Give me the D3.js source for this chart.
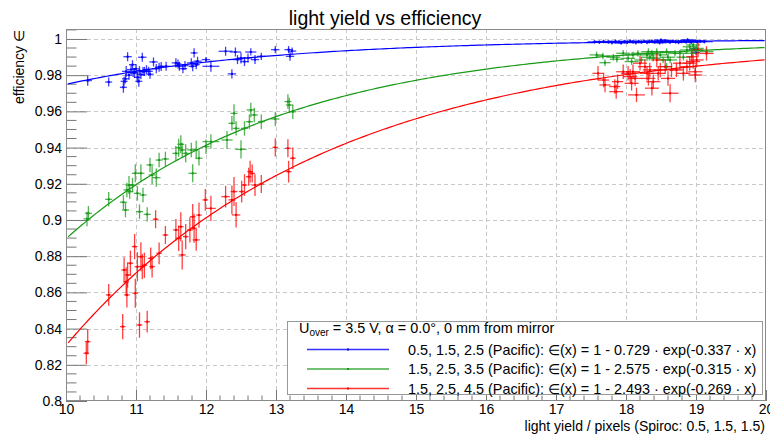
<!DOCTYPE html>
<html>
<head>
<meta charset="utf-8">
<script src="https://cdn.jsdelivr.net/npm/d3@7"></script>
<style>
  body { margin: 0; background: #fff; }
  svg { font-family: "Liberation Sans", Arial, sans-serif; }
</style>
</head>
<body>
<svg id="chart" width="770" height="436"></svg>
<script>
// measured points: [light yield, efficiency, x error, y error]
var blueLeft = [
  [10.31,0.9770,0.06,0.0028],[10.61,0.9762,0.05,0.0025],[10.82,0.9733,0.05,0.0030],
  [10.83,0.9766,0.05,0.0025],[10.85,0.9780,0.05,0.0025],[10.86,0.9821,0.06,0.0030],
  [10.88,0.9902,0.06,0.0025],[10.90,0.9800,0.05,0.0025],[10.93,0.9831,0.06,0.0028],
  [10.95,0.9858,0.05,0.0025],[10.96,0.9815,0.05,0.0025],[10.98,0.9812,0.06,0.0028],
  [11.00,0.9835,0.05,0.0025],[11.02,0.9788,0.05,0.0030],[11.04,0.9766,0.05,0.0030],
  [11.05,0.9825,0.05,0.0025],[11.07,0.9803,0.06,0.0025],[11.09,0.9899,0.06,0.0025],
  [11.10,0.9820,0.05,0.0025],[11.12,0.9821,0.06,0.0025],[11.15,0.9830,0.05,0.0025],
  [11.18,0.9821,0.06,0.0025],[11.20,0.9805,0.05,0.0025],[11.25,0.9873,0.06,0.0025],
  [11.29,0.9836,0.06,0.0025],[11.33,0.9844,0.06,0.0025],[11.36,0.9848,0.05,0.0025],
  [11.43,0.9849,0.06,0.0025],[11.57,0.9868,0.06,0.0025],[11.60,0.9862,0.05,0.0025],
  [11.62,0.9849,0.06,0.0025],[11.67,0.9836,0.06,0.0025],[11.70,0.9853,0.05,0.0025],
  [11.79,0.9868,0.06,0.0025],[11.81,0.9849,0.06,0.0028],[11.83,0.9923,0.05,0.0025],
  [11.86,0.9858,0.05,0.0025],[11.88,0.9877,0.06,0.0025],[12.00,0.9886,0.06,0.0015],
  [12.07,0.9849,0.12,0.0030],[12.28,0.9932,0.10,0.0025],[12.37,0.9807,0.06,0.0025],
  [12.42,0.9928,0.08,0.0025],[12.45,0.9886,0.07,0.0025],[12.50,0.9895,0.06,0.0030],
  [12.55,0.9875,0.06,0.0025],[12.60,0.9895,0.06,0.0025],[12.64,0.9928,0.08,0.0020],
  [12.70,0.9886,0.06,0.0025],[12.79,0.9904,0.06,0.0020],[12.99,0.9941,0.06,0.0020],
  [13.18,0.9941,0.06,0.0020],[13.20,0.9904,0.06,0.0025],[13.23,0.9933,0.06,0.0020]
];
var blueRight = [
  [17.55,0.9984,0.10,0.0010],[17.62,0.9982,0.10,0.0010],[17.68,0.9986,0.12,0.0010],
  [17.75,0.9983,0.10,0.0010],[17.80,0.9980,0.10,0.0010],[17.85,0.9987,0.12,0.0010],
  [17.90,0.9984,0.10,0.0010],[17.93,0.9978,0.10,0.0010],[17.98,0.9985,0.12,0.0010],
  [18.02,0.9982,0.10,0.0010],[18.06,0.9988,0.10,0.0010],[18.10,0.9984,0.12,0.0010],
  [18.14,0.9980,0.10,0.0010],[18.18,0.9986,0.10,0.0010],[18.22,0.9983,0.12,0.0010],
  [18.26,0.9987,0.10,0.0010],[18.30,0.9981,0.10,0.0010],[18.33,0.9985,0.12,0.0010],
  [18.37,0.9988,0.10,0.0010],[18.41,0.9983,0.10,0.0010],[18.45,0.9986,0.12,0.0010],
  [18.48,0.9979,0.10,0.0010],[18.52,0.9984,0.10,0.0010],[18.56,0.9990,0.12,0.0010],
  [18.60,0.9986,0.10,0.0010],[18.63,0.9982,0.10,0.0010],[18.67,0.9988,0.12,0.0010],
  [18.71,0.9984,0.10,0.0010],[18.75,0.9981,0.10,0.0010],[18.79,0.9986,0.12,0.0010],
  [18.83,0.9989,0.10,0.0010],[18.86,0.9984,0.10,0.0010],[18.90,0.9987,0.12,0.0010],
  [18.93,0.9982,0.10,0.0010],[18.96,0.9986,0.10,0.0010],[18.99,0.9989,0.12,0.0010],
  [19.02,0.9984,0.10,0.0010],[19.06,0.9987,0.10,0.0010],[19.12,0.9985,0.12,0.0010],
  [18.97,0.9945,0.06,0.0015],[19.00,0.9925,0.06,0.0015],[18.50,0.9994,0.10,0.0010],
  [18.88,0.9995,0.10,0.0010]
];
var greenLeft = [
  [10.30,0.9006,0.05,0.004],[10.32,0.9037,0.05,0.004],[10.61,0.9114,0.05,0.004],
  [10.82,0.9098,0.05,0.004],[10.85,0.9055,0.05,0.004],[10.87,0.9166,0.05,0.004],
  [10.90,0.9193,0.05,0.005],[10.91,0.9157,0.05,0.004],[10.95,0.9193,0.05,0.004],
  [10.99,0.9258,0.05,0.005],[11.02,0.9147,0.05,0.004],[11.05,0.9046,0.05,0.004],
  [11.07,0.9258,0.05,0.005],[11.10,0.9138,0.05,0.004],[11.16,0.9031,0.05,0.004],
  [11.20,0.9304,0.05,0.004],[11.23,0.9249,0.05,0.005],[11.29,0.9234,0.06,0.005],
  [11.33,0.9331,0.05,0.004],[11.42,0.9337,0.05,0.004],[11.57,0.9368,0.05,0.004],
  [11.61,0.9399,0.05,0.005],[11.64,0.9418,0.05,0.005],[11.66,0.9387,0.05,0.004],
  [11.71,0.9368,0.05,0.005],[11.79,0.9387,0.06,0.004],[11.81,0.9258,0.06,0.005],
  [11.86,0.9387,0.05,0.005],[11.90,0.9341,0.05,0.004],[12.00,0.9405,0.05,0.004],
  [12.07,0.9433,0.12,0.004],[12.30,0.9442,0.08,0.005],[12.37,0.9534,0.05,0.004],
  [12.40,0.9589,0.05,0.005],[12.43,0.9506,0.05,0.004],[12.50,0.9390,0.08,0.005],
  [12.55,0.9506,0.05,0.004],[12.62,0.9543,0.05,0.004],[12.64,0.9608,0.06,0.004],
  [12.69,0.9580,0.05,0.004],[12.79,0.9543,0.05,0.004],[12.99,0.9558,0.06,0.004],
  [13.17,0.9654,0.05,0.004],[13.19,0.9635,0.05,0.004],[13.24,0.9598,0.05,0.004]
];
var greenRight = [
  [17.58,0.9912,0.10,0.0018],[17.67,0.9906,0.10,0.0018],[17.70,0.9869,0.08,0.0018],
  [17.82,0.9899,0.10,0.0018],[17.87,0.9888,0.10,0.0018],[17.96,0.9921,0.10,0.0018],
  [18.03,0.9893,0.10,0.0018],[18.08,0.9875,0.10,0.0018],[18.10,0.9912,0.12,0.0018],
  [18.17,0.9921,0.10,0.0018],[18.22,0.9884,0.10,0.0018],[18.30,0.9912,0.10,0.0018],
  [18.32,0.9930,0.10,0.0018],[18.34,0.9899,0.12,0.0018],[18.37,0.9921,0.10,0.0018],
  [18.39,0.9893,0.10,0.0018],[18.44,0.9930,0.10,0.0018],[18.49,0.9912,0.12,0.0018],
  [18.53,0.9884,0.10,0.0018],[18.58,0.9930,0.10,0.0018],[18.60,0.9899,0.10,0.0018],
  [18.63,0.9884,0.10,0.0018],[18.70,0.9921,0.10,0.0018],[18.77,0.9921,0.10,0.0018],
  [18.82,0.9899,0.10,0.0018],[18.87,0.9939,0.10,0.0018],[18.91,0.9957,0.10,0.0018],
  [18.94,0.9921,0.10,0.0018],[18.96,0.9967,0.10,0.0018],[18.99,0.9939,0.10,0.0018],
  [19.01,0.9948,0.10,0.0018],[19.15,0.9930,0.10,0.0018],[18.58,0.9847,0.08,0.0020]
];
var redLeft = [
  [10.29,0.8264,0.04,0.006],[10.31,0.8328,0.04,0.007],[10.61,0.8586,0.04,0.006],
  [10.81,0.8411,0.04,0.007],[10.83,0.8724,0.04,0.007],[10.86,0.8659,0.04,0.008],
  [10.87,0.8586,0.04,0.007],[10.88,0.8696,0.04,0.007],[10.92,0.8761,0.04,0.007],
  [10.98,0.8853,0.04,0.007],[10.99,0.8595,0.04,0.008],[11.02,0.8742,0.04,0.008],
  [11.05,0.8420,0.04,0.007],[11.07,0.8797,0.04,0.008],[11.09,0.8742,0.04,0.007],
  [11.12,0.8750,0.04,0.007],[11.16,0.8438,0.04,0.006],[11.21,0.8788,0.04,0.006],
  [11.23,0.8742,0.04,0.006],[11.28,0.9004,0.04,0.005],[11.33,0.8816,0.04,0.006],
  [11.42,0.8917,0.04,0.005],[11.57,0.8945,0.04,0.006],[11.61,0.8899,0.04,0.007],
  [11.64,0.8963,0.04,0.008],[11.66,0.8807,0.05,0.008],[11.71,0.8908,0.04,0.007],
  [11.77,0.8945,0.04,0.007],[11.81,0.9018,0.04,0.007],[11.83,0.8954,0.04,0.008],
  [11.86,0.8890,0.05,0.006],[11.90,0.9027,0.04,0.007],[11.99,0.9111,0.04,0.006],
  [12.07,0.9064,0.07,0.007],[12.28,0.9129,0.06,0.006],[12.37,0.9111,0.05,0.008],
  [12.40,0.9157,0.05,0.008],[12.43,0.9028,0.06,0.007],[12.51,0.9157,0.04,0.006],
  [12.55,0.9193,0.04,0.006],[12.61,0.9239,0.04,0.005],[12.63,0.9267,0.04,0.006],
  [12.66,0.9257,0.04,0.005],[12.70,0.9193,0.05,0.006],[12.79,0.9199,0.04,0.005],
  [12.99,0.9401,0.04,0.005],[13.17,0.9396,0.04,0.005],[13.18,0.9267,0.04,0.006],
  [13.24,0.9341,0.04,0.006]
];
var redRight = [
  [17.60,0.9810,0.08,0.004],[17.68,0.9773,0.08,0.004],[17.70,0.9746,0.08,0.004],
  [17.84,0.9737,0.08,0.004],[17.86,0.9709,0.10,0.004],[17.88,0.9764,0.08,0.004],
  [17.96,0.9819,0.10,0.004],[18.03,0.9810,0.10,0.004],[18.06,0.9792,0.10,0.004],
  [18.08,0.9755,0.10,0.004],[18.10,0.9819,0.10,0.004],[18.13,0.9782,0.10,0.004],
  [18.15,0.9691,0.12,0.004],[18.20,0.9866,0.10,0.004],[18.27,0.9847,0.10,0.004],
  [18.30,0.9810,0.10,0.004],[18.32,0.9782,0.10,0.004],[18.34,0.9829,0.10,0.004],
  [18.37,0.9728,0.10,0.004],[18.39,0.9764,0.10,0.004],[18.44,0.9884,0.08,0.004],
  [18.46,0.9810,0.10,0.004],[18.49,0.9829,0.10,0.004],[18.56,0.9847,0.10,0.004],
  [18.60,0.9782,0.10,0.004],[18.63,0.9700,0.12,0.005],[18.65,0.9829,0.10,0.004],
  [18.72,0.9829,0.10,0.004],[18.77,0.9866,0.10,0.004],[18.82,0.9810,0.10,0.004],
  [18.87,0.9847,0.10,0.004],[18.91,0.9866,0.10,0.004],[18.94,0.9902,0.08,0.004],
  [18.96,0.9875,0.10,0.004],[18.99,0.9819,0.10,0.004],[19.01,0.9884,0.10,0.004],
  [19.03,0.9939,0.08,0.004],[19.15,0.9920,0.10,0.004],[18.99,0.9801,0.10,0.004]
];

// fit parameters e(x) = 1 - a * exp(-b * x)
var fitA = [0.729, 2.575, 2.493];
var fitB = [0.337, 0.315, 0.269];
var seriesColors = ['#0000ff', '#179a17', '#ff0000'];
var seriesNames = [
  '0.5, 1.5, 2.5 (Pacific): \u2208(x) = 1 - 0.729 \u00b7 exp(-0.337 \u00b7 x)',
  '1.5, 2.5, 3.5 (Pacific): \u2208(x) = 1 - 2.575 \u00b7 exp(-0.315 \u00b7 x)',
  '1.5, 2.5, 4.5 (Pacific): \u2208(x) = 1 - 2.493 \u00b7 exp(-0.269 \u00b7 x)'
];
var seriesPoints = [blueLeft.concat(blueRight), greenLeft.concat(greenRight), redLeft.concat(redRight)];

var xTicks = d3.range(10, 21, 1);
var yTicks = [0.8, 0.82, 0.84, 0.86, 0.88, 0.9, 0.92, 0.94, 0.96, 0.98, 1];

var svg = d3.select('#chart');
var frame = { l: 66, r: 766, t: 29, b: 401 };

var x = d3.scaleLinear().domain([10, 20]).range([frame.l, frame.r]);
var y = d3.scaleLinear().domain([0.8, 1.0055]).range([frame.b, frame.t]);

svg.append('rect').attr('width', 770).attr('height', 436).attr('fill', '#fff');

// grid
var grid = svg.append('g').attr('stroke', '#c8c8c8').attr('stroke-dasharray', '4,3').attr('stroke-width', 1);
grid.selectAll('.gx').data(xTicks.slice(1, -1)).enter().append('line')
    .attr('x1', d => Math.round(x(d)) + 0.5).attr('x2', d => Math.round(x(d)) + 0.5)
    .attr('y1', frame.t).attr('y2', frame.b);
grid.selectAll('.gy').data(yTicks.slice(1)).enter().append('line')
    .attr('y1', d => Math.round(y(d)) + 0.5).attr('y2', d => Math.round(y(d)) + 0.5)
    .attr('x1', frame.l).attr('x2', frame.r);

svg.append('defs').append('clipPath').attr('id', 'clip')
    .append('rect').attr('x', frame.l).attr('y', frame.t)
    .attr('width', frame.r - frame.l).attr('height', frame.b - frame.t);

// axes (ROOT style, ticks pointing inwards)
var xAxis = d3.axisBottom(x).tickValues(xTicks).tickSize(-11).tickPadding(15).tickFormat(d3.format('d'));
var gx = svg.append('g').attr('transform', `translate(0,${frame.b})`).call(xAxis);
var xMinor = d3.range(10, 20.001, 0.2).filter(d => Math.abs(d - Math.round(d)) > 0.01);
gx.selectAll('.minor').data(xMinor).enter().append('line')
    .attr('x1', d => x(d)).attr('x2', d => x(d)).attr('y1', 0).attr('y2', -5.5);

var yAxis = d3.axisLeft(y).tickValues(yTicks).tickSize(-21).tickPadding(4).tickFormat(d => d3.format('')(+d.toFixed(2)));
var gy = svg.append('g').attr('transform', `translate(${frame.l},0)`).call(yAxis);
var yMinor = d3.range(0.8, 1.0051, 0.005).filter(d => Math.abs(d * 50 - Math.round(d * 50)) > 0.01);
gy.selectAll('.minor').data(yMinor).enter().append('line')
    .attr('y1', d => y(d)).attr('y2', d => y(d)).attr('x1', 0).attr('x2', 10.5);

[gx, gy].forEach(function(g) {
    g.select('.domain').remove();
    g.selectAll('line').attr('stroke', '#777');
    g.selectAll('text').attr('font-size', 14).attr('fill', '#000')
        .attr('font-family', '"Liberation Sans", Arial, sans-serif');
});
gx.selectAll('.tick text').attr('dy', '0.35em').attr('y', 8);

svg.append('rect').attr('x', frame.l + 0.5).attr('y', frame.t + 0.5)
    .attr('width', frame.r - frame.l - 1).attr('height', frame.b - frame.t - 1)
    .attr('fill', 'none').attr('stroke', '#8a8a8a');

// data points with error bars
var plot = svg.append('g').attr('clip-path', 'url(#clip)');
seriesPoints.forEach(function(pts, i) {
    var g = plot.append('g').attr('stroke', seriesColors[i]).attr('stroke-width', 1.3);
    var pg = g.selectAll('.pt').data(pts).enter().append('g');
    pg.append('line')
        .attr('x1', d => x(d[0] - d[2])).attr('x2', d => x(d[0] + d[2]))
        .attr('y1', d => y(d[1])).attr('y2', d => y(d[1]))
        .attr('stroke-opacity', 0.75);
    pg.append('line')
        .attr('x1', d => x(d[0])).attr('x2', d => x(d[0]))
        .attr('y1', d => y(d[1] - d[3])).attr('y2', d => y(d[1] + d[3]))
        .attr('stroke-opacity', 0.75);
    pg.append('rect')
        .attr('x', d => x(d[0]) - 1).attr('y', d => y(d[1]) - 1)
        .attr('width', 2).attr('height', 2)
        .attr('fill', seriesColors[i]).attr('stroke', 'none');
});

// fit curves
var fitX = d3.range(10.03, 20.001, 0.05);
fitA.forEach(function(a, i) {
    var line = d3.line().x(d => x(d)).y(d => y(1 - a * Math.exp(-fitB[i] * d)));
    plot.append('path').datum(fitX).attr('d', line)
        .attr('fill', 'none').attr('stroke', seriesColors[i]).attr('stroke-width', 1.2);
});

// title and axis labels
svg.append('text').attr('x', 385).attr('y', 25).attr('text-anchor', 'middle')
    .attr('font-size', 19.5).text('light yield vs efficiency');
svg.append('text').attr('transform', 'translate(24,30) rotate(-90)')
    .attr('text-anchor', 'end').attr('font-size', 14).text('efficiency \u2208');
svg.append('text').attr('x', 765).attr('y', 431).attr('text-anchor', 'end')
    .attr('font-size', 14).text('light yield / pixels (Spiroc: 0.5, 1.5, 1.5)');

// legend
var lg = svg.append('g');
lg.append('rect').attr('x', 287.5).attr('y', 321.5).attr('width', 475).attr('height', 73)
    .attr('fill', '#fff').attr('stroke', '#999');
var head = lg.append('text').attr('x', 299).attr('y', 333).attr('font-size', 14.4);
head.append('tspan').text('U');
head.append('tspan').attr('font-size', 10).attr('dy', 3).text('over');
head.append('tspan').attr('dy', -3).text(' = 3.5 V, \u03b1 = 0.0\u00b0, 0 mm from mirror');
seriesNames.forEach(function(name, i) {
    var ly = 349.5 + i * 19.5;
    lg.append('line').attr('x1', 307).attr('x2', 389).attr('y1', ly).attr('y2', ly)
        .attr('stroke', seriesColors[i]).attr('stroke-width', 1.3).attr('stroke-opacity', 0.8);
    lg.append('rect').attr('x', 347).attr('y', ly - 1).attr('width', 2).attr('height', 2)
        .attr('fill', seriesColors[i]);
    lg.append('text').attr('x', 408).attr('y', ly + 5).attr('font-size', 14.4).text(name);
});
</script>
</body>
</html>
